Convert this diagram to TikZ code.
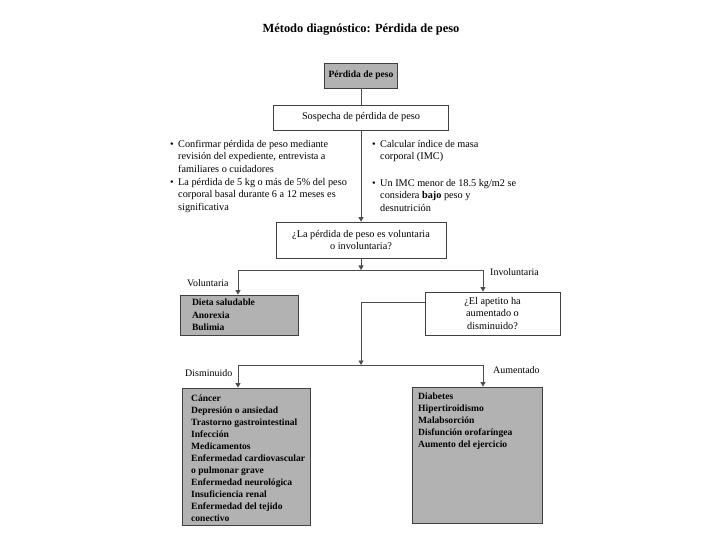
\documentclass[tikz,border=0pt]{standalone}
\usepackage{fontspec}
\setmainfont{Liberation Serif}
\usetikzlibrary{arrows.meta}
\newcommand{\bul}{\makebox[8bp][l]{•}}
\newcommand{\ind}{\hspace*{8bp}}
\begin{document}
\begin{tikzpicture}[x=1bp,y=-1bp,
  every node/.style={inner sep=0pt, font=\fontsize{10.3}{12.5}\selectfont},
  boxw/.style={draw=black!75, line width=0.8pt, fill=white, align=center},
  boxg/.style={draw=black!75, line width=0.8pt, fill=black!30},
  conn/.style={draw=black!70, line width=0.8pt},
  arr/.style={conn, -{Triangle[length=4.5bp,width=5bp]}},
  lbl/.style={font=\fontsize{10}{11}\selectfont},
  bultext/.style={anchor=north west, align=left},
  boldlist/.style={align=left, font=\fontsize{9.6}{12}\selectfont\bfseries}
]
\useasboundingbox (0,0) rectangle (720,540);
\node (title) at (361,30) {\fontsize{12.5}{14}\selectfont\bfseries Método diagnóstico: Pérdida de peso};

\node[boxg, minimum width=73bp, minimum height=25bp, font=\fontsize{9.6}{11}\selectfont\bfseries] (b1) at (361,75.5) {Pérdida de peso};
\node[boxw, minimum width=175bp, minimum height=25bp] (b2) at (361,117.5) {Sospecha de pérdida de peso};
\node[boxw, minimum width=170bp, minimum height=36bp] (b3) at (361,240) {¿La pérdida de peso es voluntaria\\ o involuntaria?};

% bullets
\node[bultext] (tl1) at (170,140) {\bul Confirmar pérdida de peso mediante\\ \ind revisión del expediente, entrevista a\\ \ind familiares o cuidadores};
\node[bultext] (tl2) at (170,178) {\bul La pérdida de 5 kg o más de 5\% del peso\\ \ind corporal basal durante 6 a 12 meses es\\ \ind significativa};
\node[bultext] (tr1) at (372,140) {\bul Calcular índice de masa\\ \ind corporal (IMC)};
\node[bultext] (tr2) at (372,179) {\bul Un IMC menor de 18.5 kg/m2 se\\ \ind considera \textbf{bajo} peso y\\ \ind desnutrición};

\node[boxg, minimum width=118bp, minimum height=40bp, boldlist, font=\fontsize{9.6}{12.5}\selectfont\bfseries] (b4) at (239,315) {\makebox[94bp][l]{Dieta saludable}\\ Anorexia\\ Bulimia};
\node[boxw, minimum width=135bp, minimum height=43bp] (b5) at (492.5,313.5) {¿El apetito ha\\ aumentado o\\ disminuido?};

\node[boxg, minimum width=128bp, minimum height=137bp] (b6) at (246,456.5) {};
\node[anchor=north west, boldlist] (t6) at (191,395) {Cáncer\\ Depresión o ansiedad\\ Trastorno gastrointestinal\\ Infección\\ Medicamentos\\ Enfermedad cardiovascular\\ o pulmonar grave\\ Enfermedad neurológica\\ Insuficiencia renal\\ Enfermedad del tejido\\ conectivo};
\node[boxg, minimum width=130bp, minimum height=136bp] (b7) at (477,455) {};
\node[anchor=north west, boldlist] (t7) at (418,393) {Diabetes\\ Hipertiroidismo\\ Malabsorción\\ Disfunción orofaríngea\\ Aumento del ejercicio};

% labels
\node[lbl, anchor=west] (lv) at (187,283) {Voluntaria};
\node[lbl, anchor=west] (li) at (490,272) {Involuntaria};
\node[lbl, anchor=west] (ld) at (185,373) {Disminuido};
\node[lbl, anchor=west] (la) at (493,370) {Aumentado};

% connectors
\coordinate (j1) at (361,270);
\coordinate (j1l) at (238,270);
\coordinate (j1r) at (483,270);
\coordinate (k0) at (361,302);
\coordinate (j2) at (361,365);
\coordinate (j2l) at (238,365);
\coordinate (j2r) at (483,365);

\draw[conn] (b1) -- (b2);
\draw[arr] (b2) -- (b3);
\draw[arr] (b3) -- (j1);
\draw[conn] (j1l) -- (j1r);
\draw[arr] (j1l) -- (j1l |- b4.north);
\draw[arr] (j1r) -- (j1r |- b5.north);
\draw[conn] (b5.west |- k0) -- (k0);
\draw[arr] (k0) -- (j2);
\draw[conn] (j2l) -- (j2r);
\draw[arr] (j2l) -- (j2l |- b6.north);
\draw[arr] (j2r) -- (j2r |- b7.north);
\end{tikzpicture}
\end{document}
